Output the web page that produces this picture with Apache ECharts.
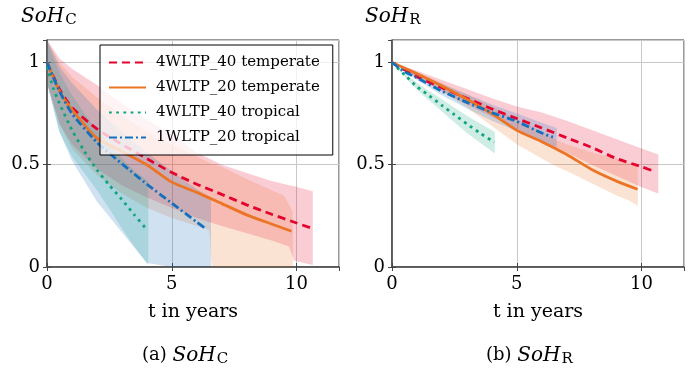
<!DOCTYPE html>
<html>
<head>
<meta charset="utf-8">
<script src="https://cdn.jsdelivr.net/npm/echarts@6/dist/echarts.min.js"></script>
<style>
  html, body { margin: 0; padding: 0; background: #fff; }
  #main { width: 694px; height: 373px; }
</style>
</head>
<body>
<div id="main"></div>
<script>
// ---- (a) SoH_C : mean curves ----
const tRedC = [0, 0.5, 1, 2, 3, 4, 5, 6, 7, 8, 9, 10, 10.6]
const redC = [1.0, 0.87, 0.78, 0.675, 0.6, 0.53, 0.462, 0.405, 0.355, 0.304, 0.258, 0.215, 0.19]
const tOrangeC = [0, 0.5, 1, 2, 3, 4, 5, 6, 7, 8, 9, 9.8]
const orangeC = [1.0, 0.86, 0.77, 0.63, 0.565, 0.5, 0.415, 0.365, 0.31, 0.255, 0.21, 0.175]
const tGreenC = [0, 0.25, 0.5, 1, 1.5, 2, 2.5, 3, 3.5, 3.95]
const greenC = [0.98, 0.875, 0.8, 0.67, 0.565, 0.475, 0.4, 0.33, 0.255, 0.19]
const tBlueC = [0, 0.5, 1, 2, 3, 4, 5, 6, 6.4]
const blueC = [1.0, 0.86, 0.75, 0.61, 0.505, 0.405, 0.312, 0.22, 0.183]

// ---- (a) SoH_C : min/max bands ----
const tRedBandC = [0, 0.5, 1, 2, 3, 4, 5, 6, 7, 8, 9, 9.7, 9.9, 10.65]
const redHiC = [1.11, 1.02, 0.97, 0.89, 0.8, 0.72, 0.65, 0.56, 0.5, 0.46, 0.42, 0.4, 0.395, 0.37]
const redLoC = [0.9, 0.7, 0.6, 0.48, 0.4, 0.34, 0.29, 0.24, 0.2, 0.165, 0.13, 0.1, 0.03, 0.01]
const tOrangeBandC = [0, 0.5, 1, 2, 3, 4, 5, 6, 6.5, 6.6, 7, 8, 9, 9.5, 9.85]
const orangeHiC = [1.11, 1.0, 0.93, 0.83, 0.74, 0.66, 0.6, 0.54, 0.51, 0.505, 0.49, 0.43, 0.375, 0.35, 0.27]
const orangeLoC = [0.9, 0.7, 0.58, 0.45, 0.36, 0.29, 0.24, 0.2, 0.18, 0, 0, 0, 0, 0, 0]
const tGreenBandC = [0, 0.5, 1, 1.5, 2, 2.5, 3, 3.5, 4.06]
const greenHiC = [1.1, 0.95, 0.84, 0.75, 0.67, 0.6, 0.53, 0.47, 0.42]
const greenLoC = [0.9, 0.66, 0.54, 0.46, 0.375, 0.285, 0.19, 0.1, 0.01]
const tBlueBandC = [0, 0.5, 1, 2, 3, 4, 5, 6, 6.57]
const blueHiC = [1.11, 0.98, 0.9, 0.77, 0.66, 0.56, 0.47, 0.38, 0.34]
const blueLoC = [0.9, 0.66, 0.52, 0.32, 0.17, 0.02, 0, 0, 0]

// ---- (b) SoH_R : mean curves ----
const tRedR = [0, 1, 2, 3, 4, 5, 6, 7, 8, 9, 10, 10.57]
const redR = [1.0, 0.93, 0.877, 0.825, 0.773, 0.726, 0.68, 0.632, 0.585, 0.53, 0.49, 0.465]
const tOrangeR = [0, 1, 2, 3, 4, 5, 6, 7, 8, 9, 9.84]
const orangeR = [1.0, 0.945, 0.885, 0.82, 0.75, 0.668, 0.613, 0.55, 0.477, 0.42, 0.38]
const tGreenR = [0, 0.5, 1, 1.5, 2, 2.5, 3, 3.5, 4.1]
const greenR = [1.0, 0.94, 0.882, 0.837, 0.79, 0.745, 0.7, 0.657, 0.61]
const tBlueR = [0, 0.5, 1, 2, 3, 4, 5, 6, 6.45]
const blueR = [1.0, 0.955, 0.925, 0.86, 0.805, 0.755, 0.712, 0.655, 0.635]

// ---- (b) SoH_R : min/max bands ----
const tRedBandR = [0, 1, 2, 3, 4, 5, 6, 7, 8, 9, 10, 10.67]
const redHiR = [1.0, 0.96, 0.915, 0.87, 0.825, 0.785, 0.755, 0.715, 0.67, 0.625, 0.58, 0.55]
const redLoR = [1.0, 0.925, 0.86, 0.795, 0.735, 0.675, 0.615, 0.56, 0.5, 0.445, 0.39, 0.36]
const tOrangeBandR = [0, 1, 2, 3, 4, 5, 6, 6.6, 7, 8, 9, 9.5, 9.85]
const orangeHiR = [1.0, 0.955, 0.9, 0.845, 0.785, 0.72, 0.66, 0.62, 0.6, 0.56, 0.53, 0.51, 0.5]
const orangeLoR = [1.0, 0.93, 0.86, 0.78, 0.69, 0.6, 0.53, 0.49, 0.47, 0.41, 0.35, 0.325, 0.3]
const tGreenBandR = [0, 1, 2, 3, 4.12]
const greenHiR = [1.0, 0.9, 0.82, 0.74, 0.66]
const greenLoR = [1.0, 0.865, 0.76, 0.655, 0.555]
const tBlueBandR = [0, 1, 2, 3, 4, 5, 6, 6.6]
const blueHiR = [1.0, 0.95, 0.895, 0.845, 0.795, 0.75, 0.705, 0.68]
const blueLoR = [1.0, 0.915, 0.84, 0.775, 0.715, 0.665, 0.61, 0.587]

const names = ["4WLTP_40 temperate", "4WLTP_20 temperate", "4WLTP_40 tropical", "1WLTP_20 tropical"]
const xTicks = [0, 5, 10]
const yTicks = [0, 0.5, 1]

const RED = "#e4032c", ORANGE = "#ec7426", GREEN = "#0fa57f", BLUE = "#1370bf"
const SERIF = "DejaVu Serif"

const zip = (t, v) => t.map((x, i) => [x, v[i]])

// filled min/max band, drawn through the axis scales
function band(idx, t, lo, hi, color) {
  return {
    type: "custom",
    xAxisIndex: idx,
    yAxisIndex: idx,
    silent: true,
    z: 1,
    data: [[t[0], lo[0]]],
    renderItem: function (params, api) {
      const pts = []
      for (let i = 0; i < t.length; i++) pts.push(api.coord([t[i], hi[i]]))
      for (let i = t.length - 1; i >= 0; i--) pts.push(api.coord([t[i], lo[i]]))
      return { type: "polygon", shape: { points: pts }, style: { fill: color, opacity: 0.2 } }
    },
  }
}

function line(idx, name, t, v, color, type) {
  return {
    type: "line",
    name: name,
    xAxisIndex: idx,
    yAxisIndex: idx,
    data: zip(t, v),
    symbol: "none",
    smooth: 0.2,
    z: 3,
    lineStyle: { color: color, width: 2.8, type: type },
    itemStyle: { color: color },
  }
}

const grids = [
  { left: 47, top: 40, width: 292, height: 227 },
  { left: 392, top: 40, width: 292, height: 227 },
]

function xAx(g, pos) {
  const main = pos === "bottom"
  return {
    type: "value", gridIndex: g, position: pos, min: 0, max: 11.7, interval: 5,
    name: main ? "t in years" : "", nameLocation: "middle", nameGap: 36,
    nameTextStyle: { fontFamily: SERIF, fontSize: 19, color: "#000" },
    axisLine: { show: main, lineStyle: { color: "#444", width: 1.5 } },
    axisTick: { show: true, inside: true, length: 4, lineStyle: { color: "#444" } },
    axisLabel: {
      show: main, showMaxLabel: false, margin: 8,
      fontFamily: SERIF, fontSize: 18, color: "#000",
      formatter: (v) => (xTicks.includes(v) ? String(v) : ""),
    },
    splitLine: { show: main, lineStyle: { color: "#c8c8c8", width: 1 } },
  }
}
function yAx(g, pos) {
  const main = pos === "left"
  return {
    type: "value", gridIndex: g, position: pos, min: 0, max: 1.11, interval: 0.5,
    axisLine: { show: main, lineStyle: { color: "#444", width: 1.5 } },
    axisTick: { show: true, inside: true, length: 4, lineStyle: { color: "#444" } },
    axisLabel: {
      show: main, showMaxLabel: false, margin: 7,
      fontFamily: SERIF, fontSize: 18, color: "#000",
      formatter: (v) => (yTicks.includes(v) ? String(v) : ""),
    },
    splitLine: { show: main, lineStyle: { color: "#c8c8c8", width: 1 } },
  }
}

const richSoH = {
  i: { fontFamily: SERIF, fontStyle: "italic", fontWeight: "normal", fontSize: 20, color: "#000" },
  s: { fontFamily: SERIF, fontWeight: "normal", fontSize: 15, color: "#000", padding: [8, 0, 0, 1] },
  n: { fontFamily: SERIF, fontWeight: "normal", fontSize: 18, color: "#000" },
}

const chart = echarts.init(document.getElementById("main"))
chart.setOption({
  animation: false,
  title: [
    { text: "{i|SoH}{s|C}", left: 21, top: 5, padding: 0, textStyle: { fontWeight: "normal", rich: richSoH } },
    { text: "{i|SoH}{s|R}", left: 365, top: 5, padding: 0, textStyle: { fontWeight: "normal", rich: richSoH } },
    { text: "{n|(a) }{i|SoH}{s|C}", left: 142, top: 344, padding: 0, textStyle: { fontWeight: "normal", rich: richSoH } },
    { text: "{n|(b) }{i|SoH}{s|R}", left: 486, top: 344, padding: 0, textStyle: { fontWeight: "normal", rich: richSoH } },
  ],
  legend: {
    data: names,
    orient: "vertical",
    left: 100,
    top: 45,
    padding: [10, 13, 10, 8],
    itemWidth: 37,
    itemHeight: 14,
    itemGap: 10,
    backgroundColor: "rgba(255,255,255,0.75)",
    borderColor: "#000",
    borderWidth: 1,
    borderRadius: 0,
    itemStyle: { opacity: 0 },
    textStyle: { fontFamily: SERIF, fontSize: 15, color: "#000", padding: [0, 0, 0, 5] },
  },
  grid: grids.map((g) => Object.assign({ show: true, borderColor: "#333", borderWidth: 1 }, g)),
  xAxis: [xAx(0, "bottom"), xAx(1, "bottom"), xAx(0, "top"), xAx(1, "top")],
  yAxis: [yAx(0, "left"), yAx(1, "left"), yAx(0, "right"), yAx(1, "right")],
  series: [
    band(0, tRedBandC, redLoC, redHiC, RED),
    band(0, tOrangeBandC, orangeLoC, orangeHiC, ORANGE),
    band(0, tGreenBandC, greenLoC, greenHiC, GREEN),
    band(0, tBlueBandC, blueLoC, blueHiC, BLUE),
    line(0, names[0], tRedC, redC, RED, [8, 5]),
    line(0, names[1], tOrangeC, orangeC, ORANGE, "solid"),
    line(0, names[2], tGreenC, greenC, GREEN, [2.8, 4.4]),
    line(0, names[3], tBlueC, blueC, BLUE, [8, 3, 2, 3]),

    band(1, tRedBandR, redLoR, redHiR, RED),
    band(1, tOrangeBandR, orangeLoR, orangeHiR, ORANGE),
    band(1, tGreenBandR, greenLoR, greenHiR, GREEN),
    band(1, tBlueBandR, blueLoR, blueHiR, BLUE),
    line(1, names[0], tRedR, redR, RED, [8, 5]),
    line(1, names[1], tOrangeR, orangeR, ORANGE, "solid"),
    line(1, names[2], tGreenR, greenR, GREEN, [2.8, 4.4]),
    line(1, names[3], tBlueR, blueR, BLUE, [8, 3, 2, 3]),
  ],
})
window.addEventListener("resize", () => {
  chart.resize()
})
</script>
</body>
</html>
